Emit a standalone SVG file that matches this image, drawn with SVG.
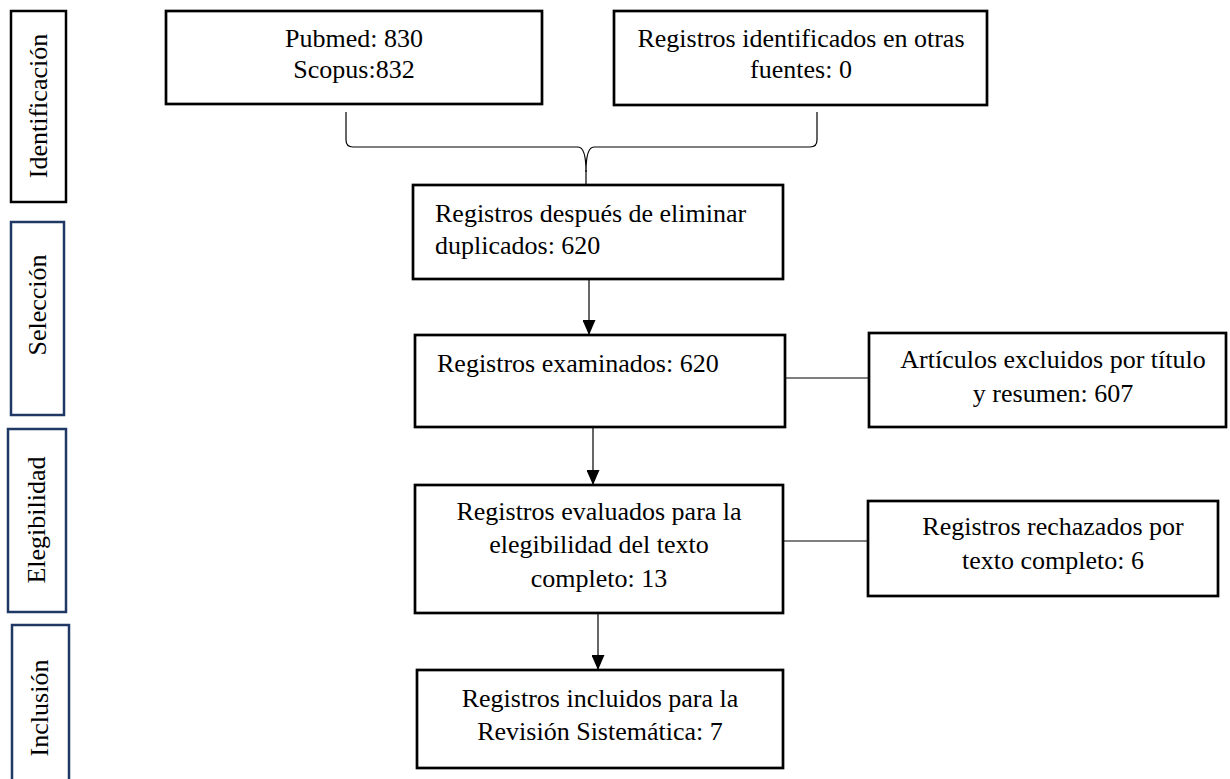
<svg xmlns="http://www.w3.org/2000/svg" width="1230" height="779" viewBox="0 0 1230 779">
<style>
.box{fill:#fff;stroke:#000;stroke-width:2.7}
.side{fill:#fff;stroke:#1f3864;stroke-width:2.5}
.sideb{fill:#fff;stroke:#000;stroke-width:2.5}
text{font-family:'Liberation Serif','Times New Roman',serif;font-size:26px;fill:#000}
.c{text-anchor:middle}
.ln{fill:none;stroke:#000;stroke-width:1.2}
</style>
<defs>
<marker id="ah" markerWidth="15" markerHeight="13" refX="15" refY="6.5" orient="auto" markerUnits="userSpaceOnUse" viewBox="0 0 15 13">
<path d="M0,0 L15,6.5 L0,13 Z" fill="#000"/>
</marker>
</defs>
<rect width="1230" height="779" fill="#fff"/>

<g id="side-identificacion">
<rect class="sideb" x="11" y="11" width="55" height="191"/>
<text class="c" transform="translate(47,106) rotate(-90)">Identificación</text>
</g>
<g id="side-seleccion">
<rect class="side" x="11" y="222" width="53" height="193"/>
<text class="c" transform="translate(46,305) rotate(-90)">Selección</text>
</g>
<g id="side-elegibilidad">
<rect class="side" x="8" y="429" width="58" height="183"/>
<text class="c" transform="translate(45,520) rotate(-90)">Elegibilidad</text>
</g>
<g id="side-inclusion">
<path class="side" d="M12,781 L12,625 L69,625 L69,781"/>
<text class="c" transform="translate(48,708) rotate(-90)">Inclusión</text>
</g>

<g id="connectors">
<path class="ln" d="M346,112 L346,140 Q346,147 353,147 L578,147 Q586,147 586,172 Q586,147 594,147 L810,147 Q817,147 817,140 L817,112"/>
<line class="ln" x1="586" y1="170" x2="586" y2="185"/>
<line class="ln" x1="589" y1="279" x2="589" y2="335" marker-end="url(#ah)"/>
<line class="ln" x1="593" y1="427" x2="593" y2="485" marker-end="url(#ah)"/>
<line class="ln" x1="598" y1="613" x2="598" y2="670" marker-end="url(#ah)"/>
<line class="ln" x1="785" y1="378" x2="869" y2="378"/>
<line class="ln" x1="783" y1="541" x2="868" y2="541"/>
</g>

<g id="n-pubmed">
<rect class="box" x="166" y="11" width="376" height="93"/>
<text class="c" x="354" y="47">Pubmed: 830</text>
<text class="c" x="354" y="78">Scopus:832</text>
</g>
<g id="n-otras">
<rect class="box" x="614" y="11" width="373" height="94"/>
<text class="c" x="801" y="47">Registros identificados en otras</text>
<text class="c" x="801" y="78">fuentes: 0</text>
</g>
<g id="n-duplicados">
<rect class="box" x="413" y="185" width="370" height="94"/>
<text x="435" y="222">Registros después de eliminar</text>
<text x="435" y="254">duplicados: 620</text>
</g>
<g id="n-examinados">
<rect class="box" x="415" y="335" width="370" height="92"/>
<text x="437" y="372">Registros examinados: 620</text>
</g>
<g id="n-excluidos">
<rect class="box" x="869" y="333" width="357" height="94"/>
<text class="c" x="1053" y="368">Artículos excluidos por título</text>
<text class="c" x="1053" y="402">y resumen: 607</text>
</g>
<g id="n-evaluados">
<rect class="box" x="415" y="485" width="368" height="128"/>
<text class="c" x="599" y="520">Registros evaluados para la</text>
<text class="c" x="599" y="553">elegibilidad del texto</text>
<text class="c" x="599" y="587">completo: 13</text>
</g>
<g id="n-rechazados">
<rect class="box" x="868" y="501" width="350" height="95"/>
<text class="c" x="1053" y="535">Registros rechazados por</text>
<text class="c" x="1053" y="569">texto completo: 6</text>
</g>
<g id="n-incluidos">
<rect class="box" x="417" y="670" width="366" height="98"/>
<text class="c" x="600" y="707">Registros incluidos para la</text>
<text class="c" x="600" y="740">Revisión Sistemática: 7</text>
</g>
</svg>
